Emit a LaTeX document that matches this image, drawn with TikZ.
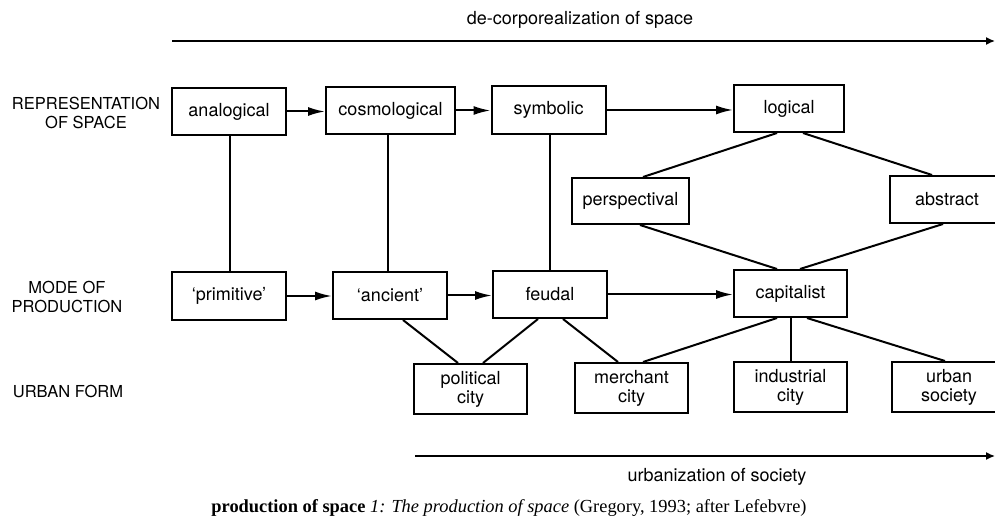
\documentclass[tikz,border=0pt]{standalone}
\usepackage{fontspec}
\setmainfont{TeX Gyre Heros}
\newfontfamily\captionfont{Liberation Serif}
\usetikzlibrary{arrows.meta}

\begin{document}
\begin{tikzpicture}[x=1pt,y=-1pt,
  stage/.style={draw,line width=2pt,minimum width=114pt,minimum height=47pt,
    inner sep=0pt,align=center,font=\fontsize{18}{19}\selectfont},
  twoline/.style={stage,minimum height=50pt},
  rowlabel/.style={align=center,font=\fontsize{16.5}{19}\selectfont},
  trendlabel/.style={font=\fontsize{18}{20}\selectfont},
  link/.style={line width=2pt},
  advance/.style={line width=2pt,-{Latex[length=17pt,width=9pt]}},
  trend/.style={line width=1.5pt,-{Latex[length=9pt,width=8pt]}}]
\useasboundingbox (0,0) rectangle (995,518);

% row labels
\node[rowlabel] (replab) at (86,113) {REPRESENTATION\\OF SPACE};
\node[rowlabel] (modelab) at (67,297) {MODE OF\\PRODUCTION};
\node[rowlabel] (urblab) at (68,391) {URBAN FORM};

% representation of space
\node[stage] (analogical) at (229,111.5) {analogical};
\node[stage,minimum width=129pt] (cosmological) at (390.5,110.5) {cosmological};
\node[stage,minimum height=48pt] (symbolic) at (548.5,110) {symbolic};
\node[stage,minimum width=110pt] (logical) at (789,108.5) {logical};
\node[stage,minimum width=117pt,minimum height=46pt] (perspectival) at (630.5,201) {perspectival};
\node[stage] (abstract) at (947,199.5) {abstract};

% mode of production
\node[stage,minimum height=48pt] (primitive) at (229,296) {`primitive'};
\node[stage] (ancient) at (390,295.5) {`ancient'};
\node[stage] (feudal) at (550,294.5) {feudal};
\node[stage,minimum width=113pt] (capitalist) at (790.5,293.5) {capitalist};

% urban form
\node[twoline,minimum width=113pt] (political) at (470.5,389) {political\\city};
\node[twoline,minimum width=113pt] (merchant) at (631.5,388) {merchant\\city};
\node[twoline,minimum width=113pt] (industrial) at (790.5,387) {industrial\\city};
\node[twoline] (urban) at (949,387) {urban\\society};

% arrows along the rows
\draw[advance] (analogical.east) -- (analogical.east -| cosmological.west);
\draw[advance] (cosmological.east) -- (cosmological.east -| symbolic.west);
\draw[advance] (symbolic.east) -- (symbolic.east -| logical.west);
\draw[advance] (primitive.east) -- (primitive.east -| ancient.west);
\draw[advance] (ancient.east) -- (ancient.east -| feudal.west);
\draw[advance] (feudal.east) -- (feudal.east -| capitalist.west);

% links between the rows
\draw[link] ([xshift=1pt]analogical.south) -- ([xshift=1pt]primitive.north);
\draw[link] ([xshift=-2.5pt]cosmological.south) -- ([xshift=-2pt]ancient.north);
\draw[link] ([xshift=1.5pt]symbolic.south) -- (feudal.north);
\draw[link] ([xshift=-12pt]logical.south) -- ([xshift=12.5pt]perspectival.north);
\draw[link] ([xshift=14pt]logical.south) -- ([xshift=-15pt]abstract.north);
\draw[link] ([xshift=9.5pt]perspectival.south) -- ([xshift=-13.5pt]capitalist.north);
\draw[link] ([xshift=-4pt]abstract.south) -- ([xshift=9.5pt]capitalist.north);
\draw[link] ([xshift=13pt]ancient.south) -- ([xshift=-12.5pt]political.north);
\draw[link] ([xshift=-12pt]feudal.south) -- ([xshift=12.5pt]political.north);
\draw[link] ([xshift=13pt]feudal.south) -- ([xshift=-13.5pt]merchant.north);
\draw[link] ([xshift=-13.5pt]capitalist.south) -- ([xshift=11.5pt]merchant.north);
\draw[link] (capitalist.south) -- (industrial.north);
\draw[link] ([xshift=16.5pt]capitalist.south) -- ([xshift=-4pt]urban.north);

% long trends
\coordinate (decstart) at (172,41);
\coordinate (decend) at (995,41);
\draw[trend] (decstart) -- (decend);
\node[trendlabel] (declab) at (580,20) {de-corporealization of space};

\coordinate (urbstart) at (415,456);
\coordinate (urbend) at (995,456);
\draw[trend] (urbstart) -- (urbend);
\node[trendlabel] (urbanlab) at (717,477) {urbanization of society};

% caption
\node[font=\captionfont\fontsize{18.4}{20}\selectfont] (caption) at (509,508)
  {\textbf{production of space} \textit{1: The production of space} (Gregory, 1993; after Lefebvre)};
\end{tikzpicture}
\end{document}
